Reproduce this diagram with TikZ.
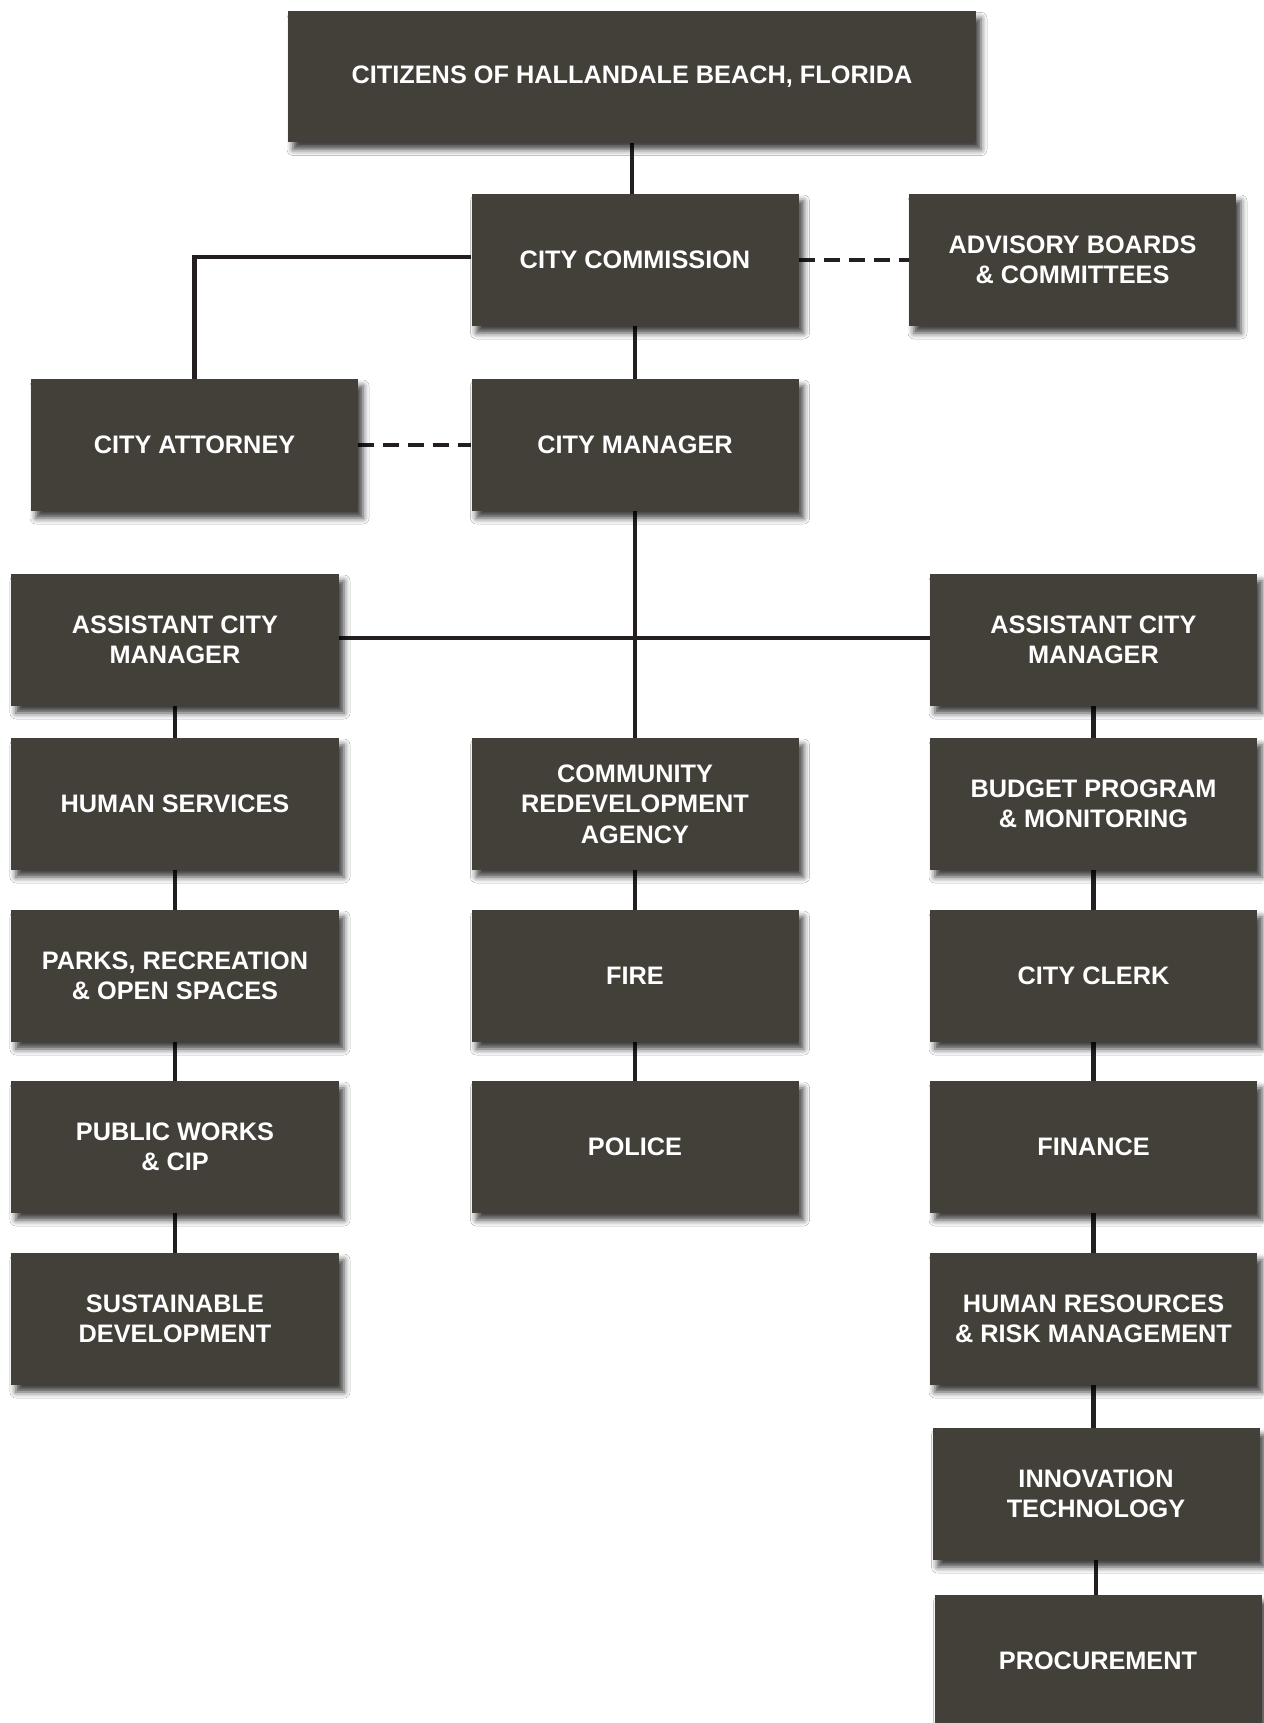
\documentclass[tikz,border=0pt]{standalone}
\usepackage{fontspec}
\setmainfont{Liberation Sans}
\usetikzlibrary{backgrounds,shadows.blur}
\definecolor{boxc}{HTML}{433F39}
\definecolor{linec}{HTML}{231F20}
\tikzset{
  orgbox/.style={rectangle, fill=boxc, text=white, draw=none,
    minimum width=327pt, minimum height=132pt, inner sep=0pt, align=center,
    font=\fontsize{25.3}{30.5}\selectfont\bfseries,
    blur shadow={shadow xshift=5pt, shadow yshift=-7pt, shadow blur radius=6pt, shadow opacity=75}},
  solidline/.style={draw=linec, line width=4.6pt},
  dashline/.style={draw=linec, line width=4.6pt, dash pattern=on 16pt off 9pt},
}
\begin{document}
\begin{tikzpicture}[x=1pt,y=-1pt]
\useasboundingbox (0,0) rectangle (1263,1723);
\node[orgbox, minimum width=688pt, minimum height=131pt] (cit) at (632,77) {CITIZENS OF HALLANDALE BEACH, FLORIDA};
\node[orgbox] (com) at (635,260) {CITY COMMISSION};
\node[orgbox] (adv) at (1072.5,260) {ADVISORY BOARDS\\\& COMMITTEES};
\node[orgbox] (att) at (194.5,445) {CITY ATTORNEY};
\node[orgbox] (man) at (635,445) {CITY MANAGER};
\node[orgbox, minimum width=328pt] (acml) at (175,640) {ASSISTANT CITY\\MANAGER};
\node[orgbox] (acmr) at (1093.5,640) {ASSISTANT CITY\\MANAGER};
\node[orgbox, minimum width=328pt] (hs) at (175,804) {HUMAN SERVICES};
\node[orgbox] (cra) at (635,804) {COMMUNITY\\REDEVELOPMENT\\AGENCY};
\node[orgbox] (bud) at (1093.5,804) {BUDGET PROGRAM\\\& MONITORING};
\node[orgbox, minimum width=328pt] (prk) at (175,976) {PARKS, RECREATION\\\& OPEN SPACES};
\node[orgbox] (fire) at (635,976) {FIRE};
\node[orgbox] (clk) at (1093.5,976) {CITY CLERK};
\node[orgbox, minimum width=328pt] (pw) at (175,1147) {PUBLIC WORKS\\\& CIP};
\node[orgbox] (pol) at (635,1147) {POLICE};
\node[orgbox] (fin) at (1093.5,1147) {FINANCE};
\node[orgbox, minimum width=328pt] (sd) at (175,1319) {SUSTAINABLE\\DEVELOPMENT};
\node[orgbox] (hr) at (1093.5,1319) {HUMAN RESOURCES\\\& RISK MANAGEMENT};
\node[orgbox] (inn) at (1096,1494) {INNOVATION\\TECHNOLOGY};
\node[orgbox] (proc) at (1098,1661) {PROCUREMENT};
\begin{pgfonlayer}{background}
\fill[white] (0,0) rectangle (1263,1723);
\draw[solidline] (cit.south) -- (cit.south |- com.north);
\draw[solidline] (com.south) -- (man.north);
\draw[solidline] ([yshift=3pt]com.west) -| (att.north);
\draw[dashline] (com.east) -- (adv.west);
\draw[dashline] (att.east) -- (man.west);
\draw[solidline] (man.south) -- (cra.north);
\draw[solidline] ([yshift=2pt]acml.east) -- ([yshift=2pt]acmr.west);
\draw[solidline] (acml.south) -- (hs.north);
\draw[solidline] (hs.south) -- (prk.north);
\draw[solidline] (prk.south) -- (pw.north);
\draw[solidline] (pw.south) -- (sd.north);
\draw[solidline] (cra.south) -- (fire.north);
\draw[solidline] (fire.south) -- (pol.north);
\draw[solidline] (acmr.south) -- (bud.north);
\draw[solidline] (bud.south) -- (clk.north);
\draw[solidline] (clk.south) -- (fin.north);
\draw[solidline] (fin.south) -- (hr.north);
\draw[solidline] (hr.south) -- (hr.south |- inn.north);
\draw[solidline] (inn.south) -- (inn.south |- proc.north);
\end{pgfonlayer}
\end{tikzpicture}
\end{document}
